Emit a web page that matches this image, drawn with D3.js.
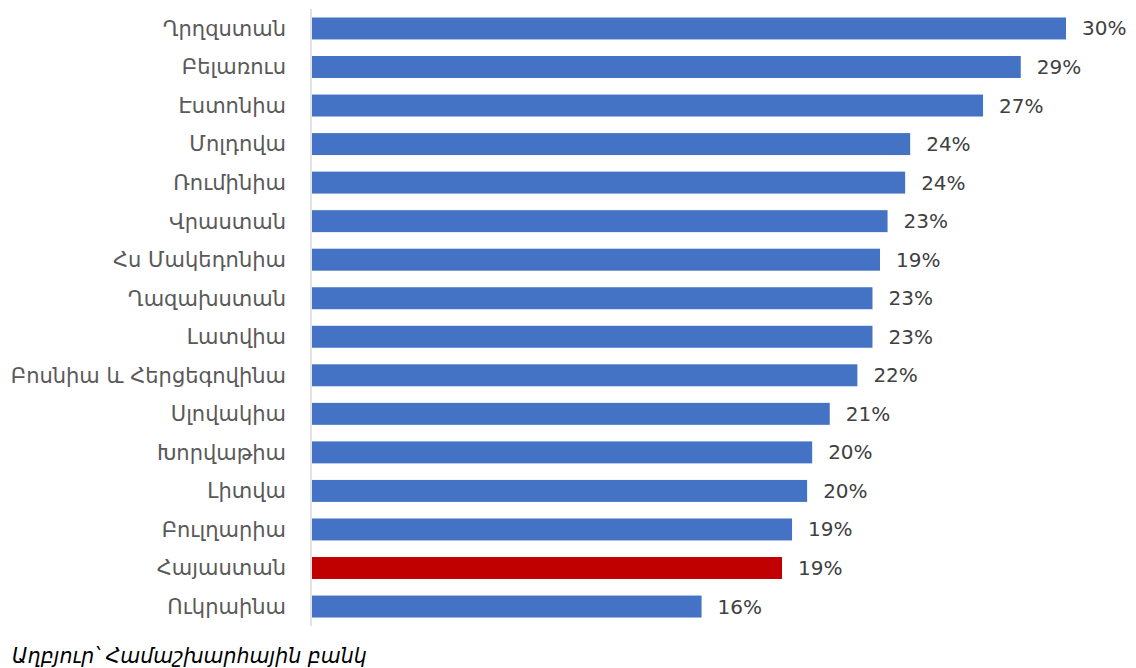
<!DOCTYPE html>
<html>
<head>
<meta charset="utf-8">
<script src="https://cdn.jsdelivr.net/npm/d3@7"></script>
<style>
  html, body { margin: 0; padding: 0; background: #fff; }
  svg { display: block; font-family: "DejaVu Sans", "Noto Sans", sans-serif; }
</style>
</head>
<body>
<svg id="chart" width="1136" height="668"></svg>
<script>
"use strict";

// Countries, top to bottom.
const countries = [
  "Ղրղզստան", "Բելառուս", "Էստոնիա", "Մոլդովա", "Ռումինիա", "Վրաստան",
  "Հս Մակեդոնիա", "Ղազախստան", "Լատվիա", "Բոսնիա և Հերցեգովինա", "Սլովակիա",
  "Խորվաթիա", "Լիտվա", "Բուլղարիա", "Հայաստան", "Ուկրաինա",
];
// Bar lengths (percent).
const values = [
  30.0, 28.2, 26.7, 23.8, 23.6, 22.9, 22.6, 22.3, 22.3, 21.7, 20.6,
  19.9, 19.7, 19.1, 18.7, 15.5,
];
// Data labels as printed on the chart.
const valueLabels = [
  "30%", "29%", "27%", "24%", "24%", "23%", "19%", "23%", "23%", "22%", "21%",
  "20%", "20%", "19%", "19%", "16%",
];
const highlight = "Հայաստան";
const source = "Աղբյուր՝ Համաշխարհային բանկ";

const data = countries.map((name, i) => ({ name, value: values[i], label: valueLabels[i] }));

const svg = d3.select("#chart");

const x = d3.scaleLinear().domain([0, 30]).range([312, 1066]);
const y = d3.scaleBand().domain(countries).range([9, 626]).paddingInner(0.43).paddingOuter(0.22);

// category labels
svg.append("g")
  .selectAll("text")
  .data(data)
  .join("text")
  .attr("x", 286)
  .attr("y", (d) => y(d.name) + y.bandwidth() / 2)
  .attr("dy", "0.35em")
  .attr("text-anchor", "end")
  .attr("font-size", 21)
  .attr("fill", "#595959")
  .text((d) => d.name);

// bars
svg.append("g")
  .selectAll("rect")
  .data(data)
  .join("rect")
  .attr("x", x(0))
  .attr("y", (d) => y(d.name))
  .attr("width", (d) => x(d.value) - x(0))
  .attr("height", y.bandwidth())
  .attr("fill", (d) => (d.name === highlight ? "#c00000" : "#4472c4"));

// value labels
svg.append("g")
  .selectAll("text")
  .data(data)
  .join("text")
  .attr("x", (d) => x(d.value) + 16)
  .attr("y", (d) => y(d.name) + y.bandwidth() / 2)
  .attr("dy", "0.35em")
  .attr("font-size", 20)
  .attr("fill", "#404040")
  .text((d) => d.label);

// vertical category axis line
svg.append("line")
  .attr("x1", 311).attr("x2", 311)
  .attr("y1", 9).attr("y2", 626)
  .attr("stroke", "#d9d9d9")
  .attr("stroke-width", 1.5);

svg.append("text")
  .attr("x", 12)
  .attr("y", 663)
  .attr("font-size", 20.5)
  .attr("font-style", "italic")
  .attr("fill", "#000")
  .text(source);
</script>
</body>
</html>
